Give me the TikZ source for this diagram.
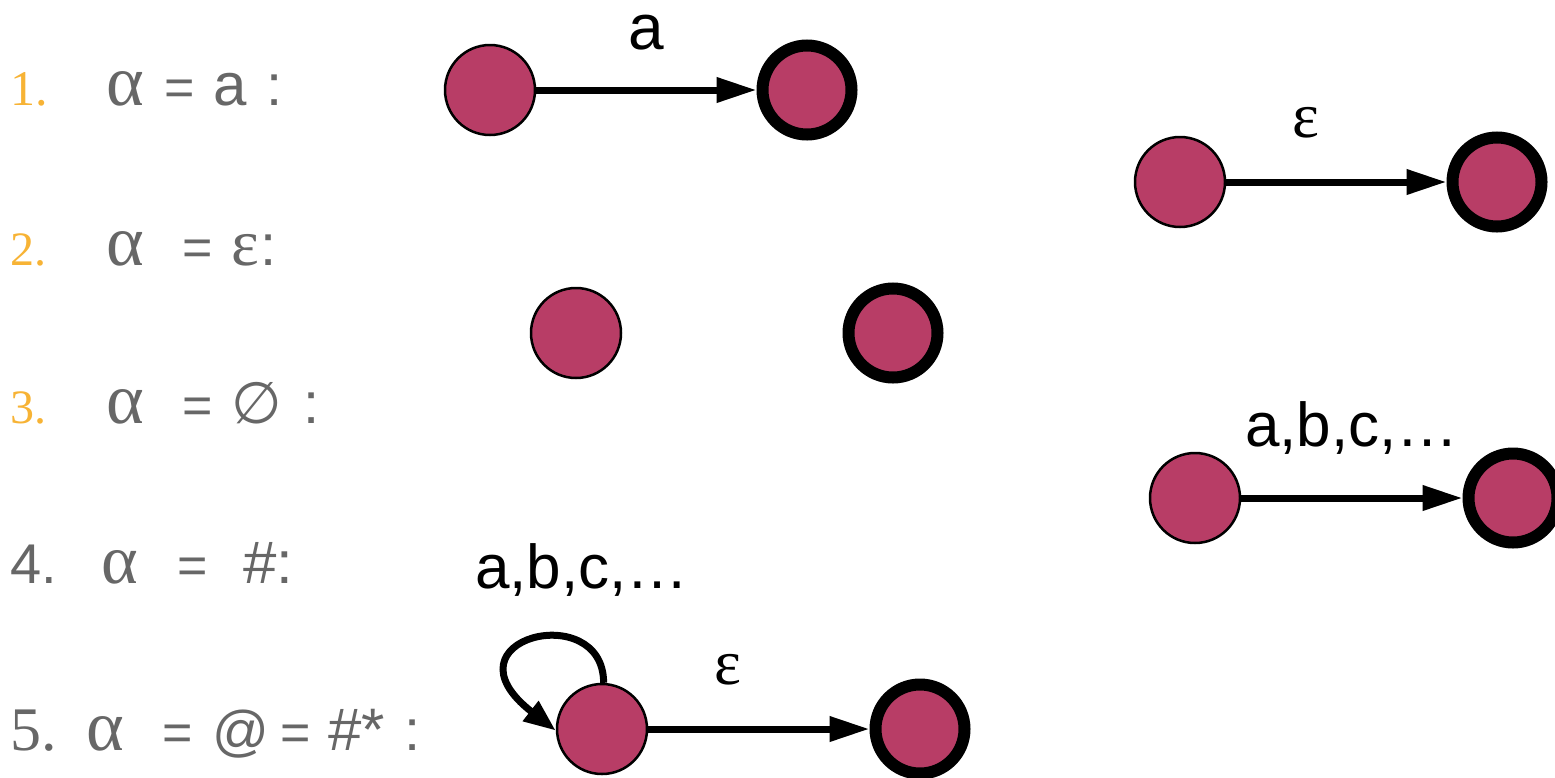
\documentclass[tikz,border=0pt]{standalone}
\usepackage{fontspec}
\setmainfont{Liberation Sans}
\newfontfamily\serifx{Liberation Serif}
\newfontfamily\djv{DejaVu Sans}
\usetikzlibrary{arrows.meta}
\definecolor{statefill}{HTML}{B83D66}
\definecolor{numorange}{HTML}{F7B335}
\definecolor{txtgray}{HTML}{676767}
\tikzset{
  state/.style={circle,draw=black,line width=2.5pt,fill=statefill,minimum size=90pt,inner sep=0pt},
  final/.style={circle,draw=black,line width=12pt,fill=statefill,minimum size=89pt,inner sep=0pt},
  trans/.style={line width=7pt,-{Triangle[length=40pt,width=24pt]}},
  looparrow/.style={line width=7pt,-{Triangle[length=32pt,width=24pt]}},
  gl/.style={anchor=base west,inner sep=0pt,text=txtgray},
  lbl/.style={inner sep=0pt,text=black}
}
\begin{document}
\begin{tikzpicture}[x=1pt,y=-1pt]
\useasboundingbox (0,0) rectangle (1555,777);
% left texts
\node[gl,text=numorange,font=\serifx\fontsize{50}{50}\selectfont] (n1) at (10,105) {1.};
\node[gl,font=\serifx\fontsize{72}{72}\selectfont] (a1) at (106,105) {α};
\node[gl,font=\fontsize{52}{52}\selectfont] (e1) at (164,105) {=};
\node[gl,font=\fontsize{60}{60}\selectfont] (x1) at (213,105) {a};
\node[gl,font=\fontsize{58}{58}\selectfont] (c1) at (266,105) {:};

\node[gl,text=numorange,font=\serifx\fontsize{48}{48}\selectfont] (n2) at (10,265) {2.};
\node[gl,font=\serifx\fontsize{72}{72}\selectfont] (a2) at (106,265) {α};
\node[gl,font=\fontsize{52}{52}\selectfont] (e2) at (182,265) {=};
\node[gl,font=\serifx\fontsize{66}{66}\selectfont] (x2) at (231,265) {ε};
\node[gl,font=\fontsize{58}{58}\selectfont] (c2) at (260,265) {:};

\node[gl,text=numorange,font=\serifx\fontsize{48}{48}\selectfont] (n3) at (10,423) {3.};
\node[gl,font=\serifx\fontsize{72}{72}\selectfont] (a3) at (106,423) {α};
\node[gl,font=\fontsize{52}{52}\selectfont] (e3) at (182,423) {=};
\node[gl,font=\djv\fontsize{58}{58}\selectfont] (x3) at (231,423) {∅};
\node[gl,font=\fontsize{58}{58}\selectfont] (c3) at (303,423) {:};

\node[gl,font=\fontsize{56}{56}\selectfont] (n4) at (10,583) {4.};
\node[gl,font=\serifx\fontsize{70}{70}\selectfont] (a4) at (101,583) {α};
\node[gl,font=\fontsize{52}{52}\selectfont] (e4) at (177,583) {=};
\node[gl,font=\fontsize{60}{60}\selectfont] (x4) at (243,583) {\#:};

\node[gl,font=\serifx\fontsize{62}{62}\selectfont] (n5) at (10,750) {5.};
\node[gl,font=\serifx\fontsize{72}{72}\selectfont] (a5) at (86,750) {α};
\node[gl,font=\fontsize{52}{52}\selectfont] (e5) at (162,750) {=};
\node[gl,font=\fontsize{56}{56}\selectfont] (x5) at (212,750) {@};
\node[gl,font=\fontsize{52}{52}\selectfont] (f5) at (280,750) {=};
\node[gl,font=\fontsize{60}{60}\selectfont] (y5) at (328,750) {\#*};
\node[gl,font=\fontsize{58}{58}\selectfont] (c5) at (404,750) {:};

% automaton 1: a
\node[state] (s1) at (490,90) {};
\node[final] (t1) at (807,90) {};
\draw[trans] (s1) -- (t1) node[lbl,midway,above=36pt,font=\fontsize{64}{64}\selectfont] (l1) {a};

% epsilon automaton (right top)
\node[state] (s2) at (1180,182) {};
\node[final] (t2) at (1497,182) {};
\draw[trans] (s2) -- (t2) node[lbl,pos=0.36,above=40pt,font=\serifx\fontsize{64}{64}\selectfont] (l2) {ε};

% empty automaton
\node[state] (s3) at (576,333) {};
\node[final] (t3) at (893,333) {};

% # automaton (right)
\node[state] (s4) at (1195,498) {};
\node[final] (t4) at (1513,498) {};
\draw[trans] (s4) -- (t4) node[lbl,pos=0.5,above=40pt,font=\fontsize{62}{62}\selectfont] (l4) {a,b,c,…};

% star automaton
\node[lbl,font=\fontsize{62}{62}\selectfont] (l5a) at (582,570) {a,b,c,…};
\node[state] (s5) at (602,729) {};
\node[final] (t5) at (920,729) {};
\draw[trans] (s5) -- (t5) node[lbl,pos=0.36,above=40pt,font=\serifx\fontsize{64}{64}\selectfont] (l5) {ε};
\draw[looparrow] (s5.88) .. controls +(0,-85) and +(-118,-92) .. (s5.182);
\end{tikzpicture}
\end{document}
